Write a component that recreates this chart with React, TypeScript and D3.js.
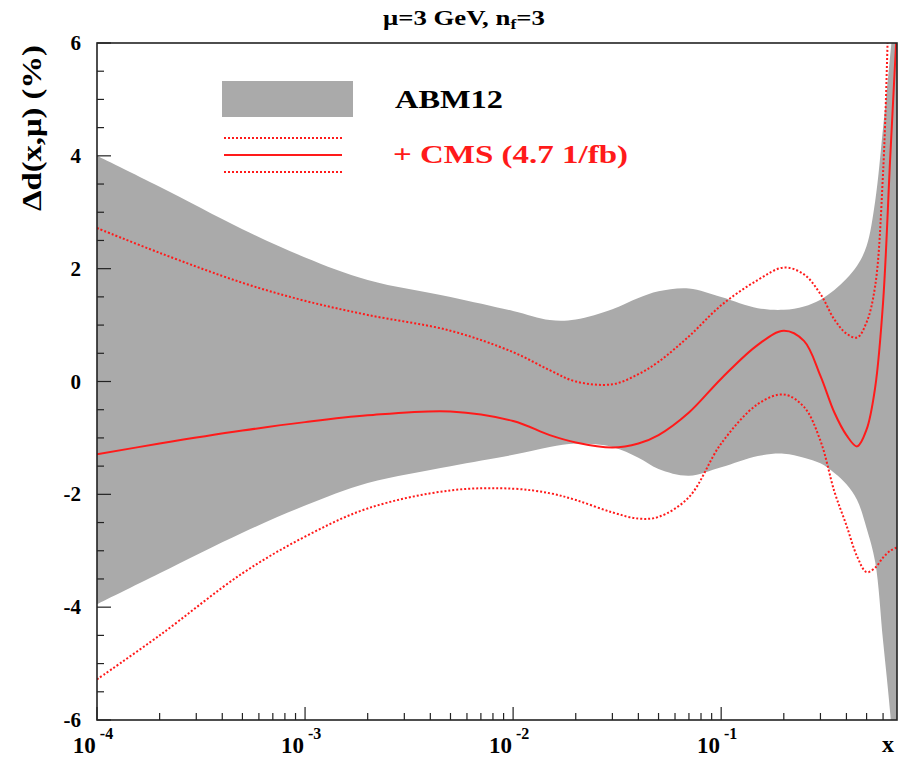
import React from "react";
import * as d3 from "d3";

// x positions (Bjorken x) at which the curves are sampled
const xs = [1e-4, 2e-4, 5e-4, 1e-3, 2e-3, 5e-3, 1e-2, 1.5e-2, 2e-2, 3e-2, 4e-2, 5e-2, 7e-2, 0.1, 0.15, 0.2, 0.25, 0.3, 0.35, 0.4, 0.45, 0.5, 0.55, 0.6, 0.65, 0.7];
// ABM12 uncertainty band (%)
const bandHigh = [4.0, 3.45, 2.7, 2.2, 1.8, 1.5, 1.25, 1.09, 1.1, 1.28, 1.48, 1.6, 1.65, 1.5, 1.3, 1.27, 1.33, 1.45, 1.62, 1.82, 2.05, 2.4, 3.2, 4.5, 5.8, 7.0];
const bandLow = [-3.95, -3.4, -2.68, -2.2, -1.8, -1.5, -1.3, -1.16, -1.1, -1.16, -1.35, -1.55, -1.67, -1.52, -1.32, -1.28, -1.35, -1.45, -1.62, -1.82, -2.1, -2.6, -3.2, -4.6, -5.9, -7.5];
// ABM12 + CMS (4.7 1/fb)
const cmsCentral = [-1.29, -1.1, -0.87, -0.72, -0.6, -0.53, -0.7, -0.95, -1.08, -1.17, -1.1, -0.95, -0.55, 0.05, 0.65, 0.9, 0.72, 0.1, -0.55, -0.95, -1.15, -0.85, -0.1, 1.4, 4.0, 6.3];
const cmsHigh = [2.72, 2.28, 1.75, 1.43, 1.18, 0.9, 0.52, 0.2, 0.0, -0.05, 0.13, 0.35, 0.8, 1.35, 1.8, 2.02, 1.9, 1.55, 1.1, 0.85, 0.78, 1.05, 1.7, 3.7, 7.5, 10];
const cmsLow = [-5.28, -4.5, -3.4, -2.75, -2.25, -1.93, -1.9, -1.98, -2.1, -2.32, -2.43, -2.4, -2.05, -1.1, -0.4, -0.23, -0.45, -1.05, -1.95, -2.55, -3.1, -3.38, -3.3, -3.12, -3.0, -2.94];

const yTicks = [-6, -4, -2, 0, 2, 4, 6];
const xDecades = [-4, -3, -2, -1];

const W = 906, H = 757;
const L = 97, R = 897, T = 43, B = 720;
const GRAY = "#aaaaaa";
const RED = "#ff1a1a";
const FONT = "'Liberation Serif', 'Times New Roman', 'DejaVu Serif', serif";

export default function App() {
  const x = d3.scaleLog().domain([1e-4, 0.7]).range([L, R]);
  const y = d3.scaleLinear().domain([-6, 6]).range([B, T]);
  const curve = d3.curveCatmullRom.alpha(0.5);

  const area = d3.area<number>()
    .x((_, i) => x(xs[i]))
    .y0((_, i) => y(bandLow[i]))
    .y1((_, i) => y(bandHigh[i]))
    .curve(curve);
  const line = (vals: number[]) =>
    d3.line<number>()
      .x((_, i) => x(xs[i]))
      .y((d) => y(d))
      .curve(curve)(vals) || "";

  const yMinor = d3.range(-6, 6.01, 0.5);
  const xMinor: number[] = [];
  for (const dec of xDecades) {
    for (let k = 2; k <= 9; k++) {
      const v = k * Math.pow(10, dec);
      if (v <= 0.7) xMinor.push(v);
    }
  }

  return (
    <div style={{ position: "absolute", left: 0, top: 0 }}>
      <svg width={W} height={H} style={{ display: "block", background: "#fff" }}>
        <defs>
          <clipPath id="plotclip">
            <rect x={L} y={T} width={R - L} height={B - T} />
          </clipPath>
        </defs>
        <g clipPath="url(#plotclip)">
          <path d={area(xs.map(() => 0)) || ""} fill={GRAY} />
          <path d={line(cmsHigh)} fill="none" stroke={RED} strokeWidth={2} strokeDasharray="2 2" />
          <path d={line(cmsLow)} fill="none" stroke={RED} strokeWidth={2} strokeDasharray="2 2" />
          <path d={line(cmsCentral)} fill="none" stroke={RED} strokeWidth={2} />
        </g>
        {/* frame */}
        <rect x={L} y={T} width={R - L} height={B - T} fill="none" stroke="#222" strokeWidth={1.6} />
        {/* y ticks */}
        {yMinor.map((v) => {
          const major = Math.abs(v % 2) < 1e-9;
          return <line key={"ym" + v} x1={L} x2={L + (major ? 14 : 7)} y1={y(v)} y2={y(v)} stroke="#222" strokeWidth={1.2} />;
        })}
        {yTicks.map((v) => (
          <text key={"yl" + v} x={81} y={y(v) + 7} textAnchor="end" fontFamily={FONT} fontWeight="bold" fontSize={21} fill="#000">
            {v}
          </text>
        ))}
        {/* x ticks */}
        {xDecades.map((dec) => (
          <line key={"xM" + dec} x1={x(Math.pow(10, dec))} x2={x(Math.pow(10, dec))} y1={B} y2={B - 13} stroke="#222" strokeWidth={1.2} />
        ))}
        {xMinor.map((v) => (
          <line key={"xm" + v} x1={x(v)} x2={x(v)} y1={B} y2={B - 7} stroke="#222" strokeWidth={1.2} />
        ))}
        {xDecades.map((dec) => (
          <text key={"xl" + dec} x={x(Math.pow(10, dec)) - 4} y={753} textAnchor="middle" fontFamily={FONT} fontWeight="bold" fontSize={23} fill="#000">
            10
            <tspan dx={4} dy={-14} fontSize={16}>{dec}</tspan>
          </text>
        ))}
        <text x={888} y={752} textAnchor="middle" fontFamily={FONT} fontWeight="bold" fontSize={24} fill="#000">x</text>
        {/* y axis title */}
        <text transform={`translate(41, 45) rotate(-90)`} textAnchor="end" fontFamily={FONT} fontWeight="bold" fontSize={27} fill="#000"
          textLength={166} lengthAdjust="spacingAndGlyphs">
          Δd(x,μ) (%)
        </text>
        {/* title */}
        <text x={383} y={25} fontFamily={FONT} fontWeight="bold" fontSize={21} fill="#000" textLength={162} lengthAdjust="spacingAndGlyphs">
          μ=3 GeV, n<tspan dy={4} fontSize={14}>f</tspan><tspan dy={-4}>=3</tspan>
        </text>
        {/* legend */}
        <rect x={222} y={81} width={131} height={36} fill={GRAY} />
        <text x={395} y={108} fontFamily={FONT} fontWeight="bold" fontSize={26} fill="#000" textLength={108} lengthAdjust="spacingAndGlyphs">ABM12</text>
        <line x1={224} x2={342} y1={138} y2={138} stroke={RED} strokeWidth={2} strokeDasharray="2 2" />
        <line x1={224} x2={342} y1={155} y2={155} stroke={RED} strokeWidth={2} />
        <line x1={224} x2={342} y1={172} y2={172} stroke={RED} strokeWidth={2} strokeDasharray="2 2" />
        <text x={393} y={163} fontFamily={FONT} fontWeight="bold" fontSize={26} fill={RED} textLength={235} lengthAdjust="spacingAndGlyphs">+ CMS (4.7 1/fb)</text>
      </svg>
    </div>
  );
}
